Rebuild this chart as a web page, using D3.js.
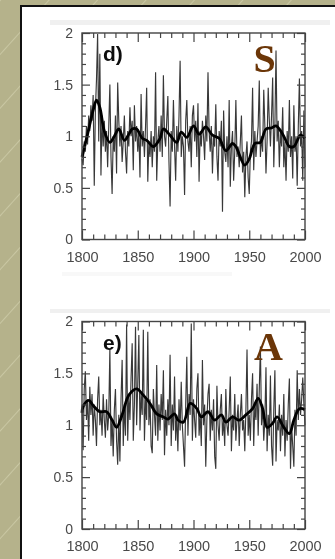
<!DOCTYPE html>
<html><head><meta charset="utf-8">
<script src="https://cdn.jsdelivr.net/npm/d3@7"></script>
<style>html,body{margin:0;padding:0;background:#b3b08a;overflow:hidden}</style>
</head><body>
<svg id="c" width="335" height="559"></svg>
<script>
// ---------------- DATA ----------------
const startYear = 1800;
// panel d) "S" – annual values 1800..2000
const seriesS = [
 0.78,0.72,0.95,0.85,1.10,0.92,1.20,1.05,1.30,1.15,
 1.40,0.52,1.25,1.55,1.99,0.95,1.80,0.62,1.20,0.90,
 1.15,0.85,1.05,0.70,1.10,1.50,0.80,0.44,1.00,0.85,
 1.20,0.64,1.52,1.15,0.90,1.10,0.75,0.95,1.20,0.85,
 0.64,1.05,0.90,1.28,1.00,1.15,0.67,1.30,0.95,1.10,
 0.85,1.05,0.60,1.41,0.90,1.05,0.80,1.10,1.47,0.56,
 0.95,0.80,1.05,0.70,1.00,0.85,1.62,0.57,0.95,1.10,
 0.85,1.20,0.80,1.59,1.00,0.90,1.15,1.39,0.75,0.32,
 1.05,0.85,1.35,0.90,0.57,1.10,0.85,1.20,1.73,0.80,
 1.00,0.90,0.43,1.15,1.35,0.95,0.85,1.10,0.70,1.20,
 1.30,0.95,1.15,0.80,1.32,0.56,1.05,0.90,1.15,1.00,
 0.77,1.20,0.95,1.62,1.05,0.85,1.10,0.64,1.00,0.90,
 1.31,0.80,0.57,1.05,0.90,1.15,0.27,1.25,0.85,0.75,
 1.00,0.70,1.35,0.51,0.90,1.05,0.57,0.85,1.35,0.80,
 0.90,0.70,0.95,1.20,0.65,0.85,0.41,0.80,0.95,0.60,
 0.44,0.85,0.95,1.47,0.67,1.05,0.80,0.95,1.10,1.54,
 0.80,1.00,0.85,1.45,1.10,0.64,0.95,1.47,1.15,0.90,
 1.20,1.57,0.70,1.10,1.83,0.95,1.15,0.70,1.05,0.90,
 1.28,0.70,0.95,0.57,1.05,0.85,1.35,0.80,1.00,0.59,
 1.30,0.85,1.00,0.52,1.10,1.56,0.90,1.05,0.57,1.25,
 0.70
];
const smoothYearsS = [1800,1805,1810,1813,1816,1820,1825,1829,1833,1838,1842,1845,1849,1854,1858,1864,1870,1873,1879,1885,1889,1894,1900,1905,1911,1917,1923,1929,1935,1938,1946,1950,1955,1960,1965,1970,1974,1980,1986,1990,1996,2000];
const smoothS = [0.80,1.02,1.25,1.35,1.28,1.05,0.94,1.00,1.07,0.96,1.02,1.07,1.07,0.98,0.96,0.90,0.98,1.07,1.01,0.94,1.04,0.99,1.10,1.02,1.09,1.01,0.98,0.86,0.93,0.90,0.72,0.78,0.93,0.94,1.07,1.08,1.10,1.02,0.90,0.90,1.01,0.98];

// panel e) "A" – annual values 1800..2000
const seriesA = [
 1.20,0.76,1.35,1.52,1.05,1.25,0.85,1.37,1.10,1.30,
 0.90,1.20,1.05,0.80,1.25,1.47,1.00,1.15,0.90,1.30,
 1.05,0.88,1.25,0.95,1.10,1.74,0.80,1.05,0.70,1.15,
 1.35,0.85,0.62,1.10,0.65,1.25,1.63,0.80,1.20,0.90,
 1.97,0.85,1.30,1.05,1.45,1.79,0.85,1.20,1.95,1.00,
 1.40,1.87,0.95,1.30,1.10,1.92,0.85,1.25,1.05,1.90,
 1.00,1.25,0.80,0.73,1.35,1.10,0.90,1.58,0.85,1.20,
 0.95,1.30,1.05,1.53,0.71,1.15,0.90,1.25,1.00,1.68,
 0.80,1.20,0.95,1.47,0.85,1.10,0.75,1.25,0.95,1.42,
 1.00,0.80,0.60,1.20,1.66,0.90,1.30,1.10,1.98,0.85,
 1.25,1.05,0.88,1.35,1.50,0.90,1.10,0.80,1.63,1.00,
 1.20,0.60,1.05,1.30,1.40,0.85,1.15,0.95,1.25,0.70,
 0.58,1.38,1.00,0.85,1.15,1.30,0.90,1.05,0.80,1.35,
 1.00,0.90,1.15,1.47,0.75,1.10,0.95,1.30,0.85,1.05,
 1.20,0.80,1.10,1.30,0.95,1.05,0.75,1.15,1.73,0.90,
 1.10,0.85,1.25,1.50,0.80,1.20,1.05,1.40,0.90,1.35,
 1.76,1.00,1.20,0.85,1.05,1.56,0.75,1.10,0.90,1.48,
 0.80,0.61,1.15,1.53,0.65,1.05,0.95,1.20,0.75,1.10,
 0.90,1.30,0.70,1.05,0.85,1.20,1.45,0.58,1.00,0.80,
 0.60,1.15,0.90,1.53,1.05,1.35,1.10,1.25,1.46,1.20,
 1.00
];
const smoothYearsA = [1800,1801,1806,1810,1816,1822,1827,1831,1836,1842,1849,1855,1861,1867,1873,1877,1883,1886,1891,1897,1903,1907,1913,1919,1925,1929,1935,1941,1947,1953,1958,1962,1966,1971,1975,1981,1986,1990,1995,2000];
const smoothA = [1.12,1.18,1.24,1.19,1.13,1.13,1.05,0.98,1.10,1.29,1.35,1.29,1.21,1.11,1.08,1.06,1.11,1.05,1.03,1.21,1.16,1.08,1.13,1.05,1.10,1.03,1.08,1.05,1.10,1.16,1.26,1.16,0.98,1.02,1.08,0.98,0.92,1.05,1.16,1.15];

const xTickLabels = [1800,1850,1900,1950,2000];
const xMinorTicks = [1810,1820,1830,1840,1860,1870,1880,1890,1910,1920,1930,1940,1960,1970,1980,1990];
const yTickLabels = [0,0.5,1,1.5,2];
const yMinorTicks = [0.1,0.2,0.3,0.4,0.6,0.7,0.8,0.9,1.1,1.2,1.3,1.4,1.6,1.7,1.8,1.9];
const panelLetters = ["d)","e)"];
const panelTitles = ["S","A"];

// ---------------- DRAW ----------------
const svg = d3.select("#c");
const defs = svg.append("defs");
const pat = defs.append("pattern").attr("id","stripes").attr("patternUnits","userSpaceOnUse")
  .attr("width",60).attr("height",36).attr("patternTransform","rotate(-48)");
pat.append("rect").attr("width",60).attr("height",36).attr("fill","#b5b28b");
pat.append("line").attr("x1",0).attr("x2",60).attr("y1",0.5).attr("y2",0.5)
  .attr("stroke","#c9c7a3").attr("stroke-width",1);
const blur = defs.append("filter").attr("id","soft").attr("x","-5%").attr("y","-5%").attr("width","110%").attr("height","110%");
blur.append("feGaussianBlur").attr("stdDeviation",0.55);

svg.append("rect").attr("width",335).attr("height",559).attr("fill","url(#stripes)");
// white sheet
svg.append("rect").attr("x",21).attr("y",6).attr("width",320).attr("height",560).attr("fill","#fff");
svg.append("path").attr("d","M21,566 V6 H340").attr("fill","none").attr("stroke","#111").attr("stroke-width",2);

// faint scan remnants
[[50,20,280,5,0.5],[50,309,280,4,0.5],[62,272,170,4,0.25]].forEach(r=>{
  svg.append("rect").attr("x",r[0]).attr("y",r[1]).attr("width",r[2]).attr("height",r[3])
    .attr("fill","#e2e2e2").attr("opacity",r[4]);
});

const panels = [
  {series: seriesS, sy: smoothYearsS, sv: smoothS, top: 33, bottom: 239.5, letter: panelLetters[0], title: panelTitles[0], tx: 264.5, ty: 72},
  {series: seriesA, sy: smoothYearsA, sv: smoothA, top: 321.5, bottom: 529, letter: panelLetters[1], title: panelTitles[1], tx: 268.5, ty: 359.5}
];

panels.forEach(p => {
  const x = d3.scaleLinear().domain([1800,2000]).range([82,305]);
  const y = d3.scaleLinear().domain([0,2]).range([p.bottom,p.top]);
  const g = svg.append("g").attr("filter","url(#soft)");

  // annual series
  const line = d3.line().x((d,i)=>x(startYear+i)).y(d=>y(d));
  g.append("path").datum(p.series).attr("d",line).attr("fill","none")
    .attr("stroke","#000").attr("stroke-width",1.15).attr("stroke-opacity",0.78)
    .attr("stroke-linejoin","miter");
  // smoothed series
  const sline = d3.line().x((d,i)=>x(p.sy[i])).y(d=>y(d)).curve(d3.curveCatmullRom.alpha(0.5));
  g.append("path").datum(p.sv).attr("d",sline).attr("fill","none")
    .attr("stroke","#000").attr("stroke-width",2.8).attr("stroke-linejoin","round");

  const styleAxis = (sel, col) => {
    sel.select(".domain").remove();
    sel.selectAll(".tick line").attr("stroke","#444").attr("stroke-width",1.2);
    sel.selectAll("text").attr("fill",col||"#4a4a4a").attr("font-family","Liberation Sans, Arial, sans-serif");
  };
  // bottom
  g.append("g").attr("transform",`translate(0,${p.bottom})`)
    .call(d3.axisBottom(x).tickValues(xTickLabels).tickSize(-9).tickPadding(12).tickFormat(d3.format("d")))
    .call(s=>{styleAxis(s); s.selectAll("text").attr("font-size",14.5);});
  g.append("g").attr("transform",`translate(0,${p.bottom})`)
    .call(d3.axisBottom(x).tickValues(xMinorTicks).tickSize(-5).tickFormat(""))
    .call(s=>styleAxis(s));
  // top
  g.append("g").attr("transform",`translate(0,${p.top})`)
    .call(d3.axisTop(x).tickValues(xTickLabels).tickSize(-9).tickFormat(""))
    .call(s=>styleAxis(s));
  g.append("g").attr("transform",`translate(0,${p.top})`)
    .call(d3.axisTop(x).tickValues(xMinorTicks).tickSize(-5).tickFormat(""))
    .call(s=>styleAxis(s));
  // left
  g.append("g").attr("transform",`translate(82,0)`)
    .call(d3.axisLeft(y).tickValues(yTickLabels).tickSize(-8).tickPadding(9).tickFormat(d=>String(d)))
    .call(s=>{styleAxis(s); s.selectAll("text").attr("font-size",14);});
  g.append("g").attr("transform",`translate(82,0)`)
    .call(d3.axisLeft(y).tickValues(yMinorTicks).tickSize(-4).tickFormat(""))
    .call(s=>styleAxis(s));
  // right
  g.append("g").attr("transform",`translate(305,0)`)
    .call(d3.axisRight(y).tickValues(yTickLabels).tickSize(-8).tickFormat(""))
    .call(s=>styleAxis(s));
  g.append("g").attr("transform",`translate(305,0)`)
    .call(d3.axisRight(y).tickValues(yMinorTicks).tickSize(-4).tickFormat(""))
    .call(s=>styleAxis(s));
  // frame
  g.append("rect").attr("x",82).attr("y",p.top).attr("width",223).attr("height",p.bottom-p.top)
    .attr("fill","none").attr("stroke","#444").attr("stroke-width",1.4);
  // panel letter
  g.append("text").attr("x",103).attr("y",p.top+28).text(p.letter)
    .attr("font-family","Liberation Sans, Arial, sans-serif").attr("font-weight","bold")
    .attr("font-size",21).attr("fill","#111");
  // title
  svg.append("text").attr("x",p.tx).attr("y",p.ty).attr("text-anchor","middle").text(p.title)
    .attr("font-family","Liberation Serif, Times New Roman, serif").attr("font-weight","bold")
    .attr("font-size",40).attr("fill","#6b3608");
});
</script>
</body></html>
